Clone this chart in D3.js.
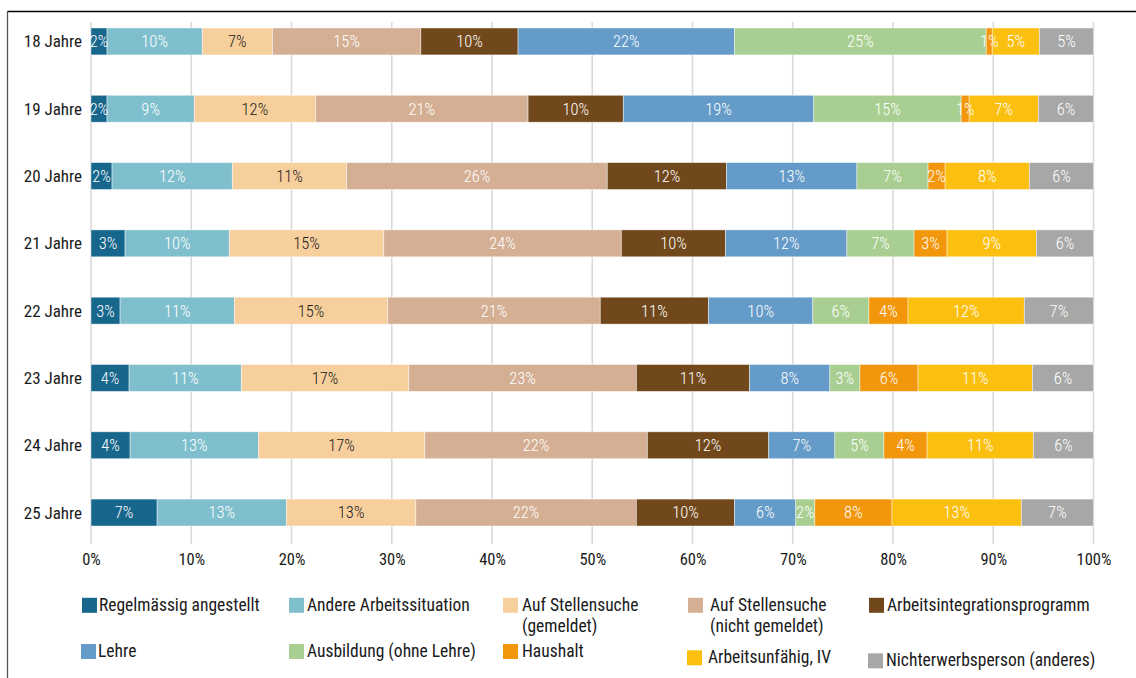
<!DOCTYPE html>
<html><head><meta charset="utf-8">
<script src="https://cdn.jsdelivr.net/npm/d3@7"></script>
<style>
  body { margin: 0; background: #fff; }
  svg text { font-family: "Roboto Condensed", "Roboto", sans-serif; }
</style>
</head><body>
<svg id="chart" width="1136" height="678"></svg>
<script>
// Altersgruppen (Zeilen)
const ages = ["18 Jahre", "19 Jahre", "20 Jahre", "21 Jahre", "22 Jahre", "23 Jahre", "24 Jahre", "25 Jahre"];

// Kategorien in Stapelreihenfolge
const categories = [
  "Regelmässig angestellt",
  "Andere Arbeitssituation",
  "Auf Stellensuche (gemeldet)",
  "Auf Stellensuche (nicht gemeldet)",
  "Arbeitsintegrationsprogramm",
  "Lehre",
  "Ausbildung (ohne Lehre)",
  "Haushalt",
  "Arbeitsunfähig, IV",
  "Nichterwerbsperson (anderes)"
];

const colors = ["#17668c", "#7fbfcd", "#f6cf9c", "#d4af94", "#71481b",
                "#649bc8", "#a8cf91", "#f2960c", "#fbbf10", "#a6a7a6"];

// Anteile in Prozent je Altersgruppe, eine Liste pro Kategorie
const regelmaessig       = [1.6, 1.6, 2.1, 3.4, 2.9, 3.8, 3.9, 6.6];
const andere             = [9.5, 8.7, 12.0, 10.4, 11.4, 11.2, 12.8, 12.9];
const sucheGemeldet      = [7.0, 12.1, 11.4, 15.4, 15.3, 16.7, 16.6, 12.9];
const sucheNichtGemeldet = [14.8, 21.2, 26.0, 23.7, 21.2, 22.7, 22.2, 22.0];
const integration        = [9.7, 9.5, 11.9, 10.4, 10.8, 11.3, 12.1, 9.8];
const lehre              = [21.6, 19.0, 13.0, 12.1, 10.4, 8.0, 6.6, 6.1];
const ausbildung         = [25.1, 14.7, 7.1, 6.7, 5.6, 3.0, 4.9, 1.9];
const haushalt           = [0.6, 0.8, 1.7, 3.3, 3.9, 5.8, 4.3, 7.7];
const arbeitsunfaehig    = [4.7, 6.9, 8.4, 8.9, 11.6, 11.4, 10.6, 12.9];
const nichterwerb        = [5.4, 5.5, 6.4, 5.7, 6.9, 6.1, 6.0, 7.2];

const seriesValues = [regelmaessig, andere, sucheGemeldet, sucheNichtGemeldet, integration,
                      lehre, ausbildung, haushalt, arbeitsunfaehig, nichterwerb];

const xTicks = [0, 10, 20, 30, 40, 50, 60, 70, 80, 90, 100];

// Legendentexte (mit Zeilenumbruch)
const legendLabels = [
  ["Regelmässig angestellt"],
  ["Andere Arbeitssituation"],
  ["Auf Stellensuche", "(gemeldet)"],
  ["Auf Stellensuche", "(nicht gemeldet)"],
  ["Arbeitsintegrationsprogramm"],
  ["Lehre"],
  ["Ausbildung (ohne Lehre)"],
  ["Haushalt"],
  ["Arbeitsunfähig, IV"],
  ["Nichterwerbsperson (anderes)"]
];

// Tabelle für d3.stack
const table = ages.map((a, i) => {
  const row = { age: a };
  categories.forEach((c, k) => { row[c] = seriesValues[k][i]; });
  return row;
});

const svg = d3.select("#chart");

// Rahmen oben und links
svg.append("line").attr("x1", 7.5).attr("x2", 1136).attr("y1", 11.5).attr("y2", 11.5)
  .attr("stroke", "#000").attr("stroke-width", 1.3);
svg.append("line").attr("x1", 7.5).attr("x2", 7.5).attr("y1", 11).attr("y2", 678)
  .attr("stroke", "#555").attr("stroke-width", 1.3);

const x = d3.scaleLinear().domain([0, 100]).range([91, 1093.5]);
const y = d3.scaleBand().domain(ages).range([7.8, 546.2]).paddingInner(0.6).paddingOuter(0.3);

// Gitterlinien
svg.append("g").selectAll("line").data(xTicks).join("line")
  .attr("x1", d => x(d)).attr("x2", d => x(d))
  .attr("y1", 22).attr("y2", 544)
  .attr("stroke", "#d9d9d9").attr("stroke-width", 1.6);

// X-Achse (nur Beschriftung)
const xAxis = d3.axisBottom(x).tickValues(xTicks).tickFormat(d => d + "%").tickSize(0).tickPadding(0);
const gx = svg.append("g").attr("transform", "translate(0,553)").call(xAxis);
gx.select(".domain").remove();
gx.selectAll("text").attr("fill", "#1a1a1a").style("font-size", "16.5px")
  .attr("dy", "0.71em");

// Y-Achse (nur Beschriftung)
const yAxis = d3.axisLeft(y).tickSize(0).tickPadding(0);
const gy = svg.append("g").attr("transform", "translate(82,0)").call(yAxis);
gy.select(".domain").remove();
gy.selectAll("text").attr("fill", "#1a1a1a").style("font-size", "17px").attr("dy", "0.35em");

// Gestapelte Balken
const stack = d3.stack().keys(categories);
const layers = stack(table);

const gLayers = svg.append("g").selectAll("g").data(layers).join("g")
  .attr("fill", (d, i) => colors[i]);

gLayers.selectAll("rect").data(d => d.map(s => ({ s, age: s.data.age }))).join("rect")
  .attr("x", d => x(d.s[0]))
  .attr("width", d => x(d.s[1]) - x(d.s[0]))
  .attr("y", d => y(d.age))
  .attr("height", y.bandwidth())
  .attr("stroke", "rgba(255,255,255,0.55)")
  .attr("stroke-width", 0.8);

// Wertbeschriftungen
layers.forEach((layer, k) => {
  svg.append("g").selectAll("text").data(layer).join("text")
    .attr("x", d => (x(d[0]) + x(d[1])) / 2)
    .attr("y", d => y(d.data.age) + y.bandwidth() / 2)
    .attr("dy", "0.36em")
    .attr("text-anchor", "middle")
    .attr("fill", k === 2 ? "#1a1a1a" : "#ffffff")
    .style("font-size", "16.5px")
    .style("font-weight", 300)
    .text(d => Math.round(d[1] - d[0]) + "%");
});

// Legende
const legendPos = [
  [82, 610.5], [289, 610.5], [503, 610.5], [688, 610.5], [869, 610.5],
  [81, 656.7], [289, 656.7], [503, 656.7], [687, 663], [868, 666]
];
const legend = svg.append("g").selectAll("g").data(categories).join("g")
  .attr("transform", (d, i) => `translate(${legendPos[i][0]},${legendPos[i][1]})`);
legend.append("rect").attr("x", 0).attr("y", -12.7).attr("width", 15).attr("height", 15)
  .attr("fill", (d, i) => colors[i]);
legend.append("text")
  .attr("x", (d, i) => [17, 18, 19, 22, 18, 17, 18, 19, 21, 18][i])
  .attr("y", 0)
  .attr("fill", "#1a1a1a")
  .style("font-size", "17.5px")
  .selectAll("tspan").data((d, i) => legendLabels[i]).join("tspan")
  .attr("x", function () { return this.parentNode.getAttribute("x"); })
  .attr("dy", (d, j) => j === 0 ? 0 : 21)
  .text(d => d);
</script></body></html>
